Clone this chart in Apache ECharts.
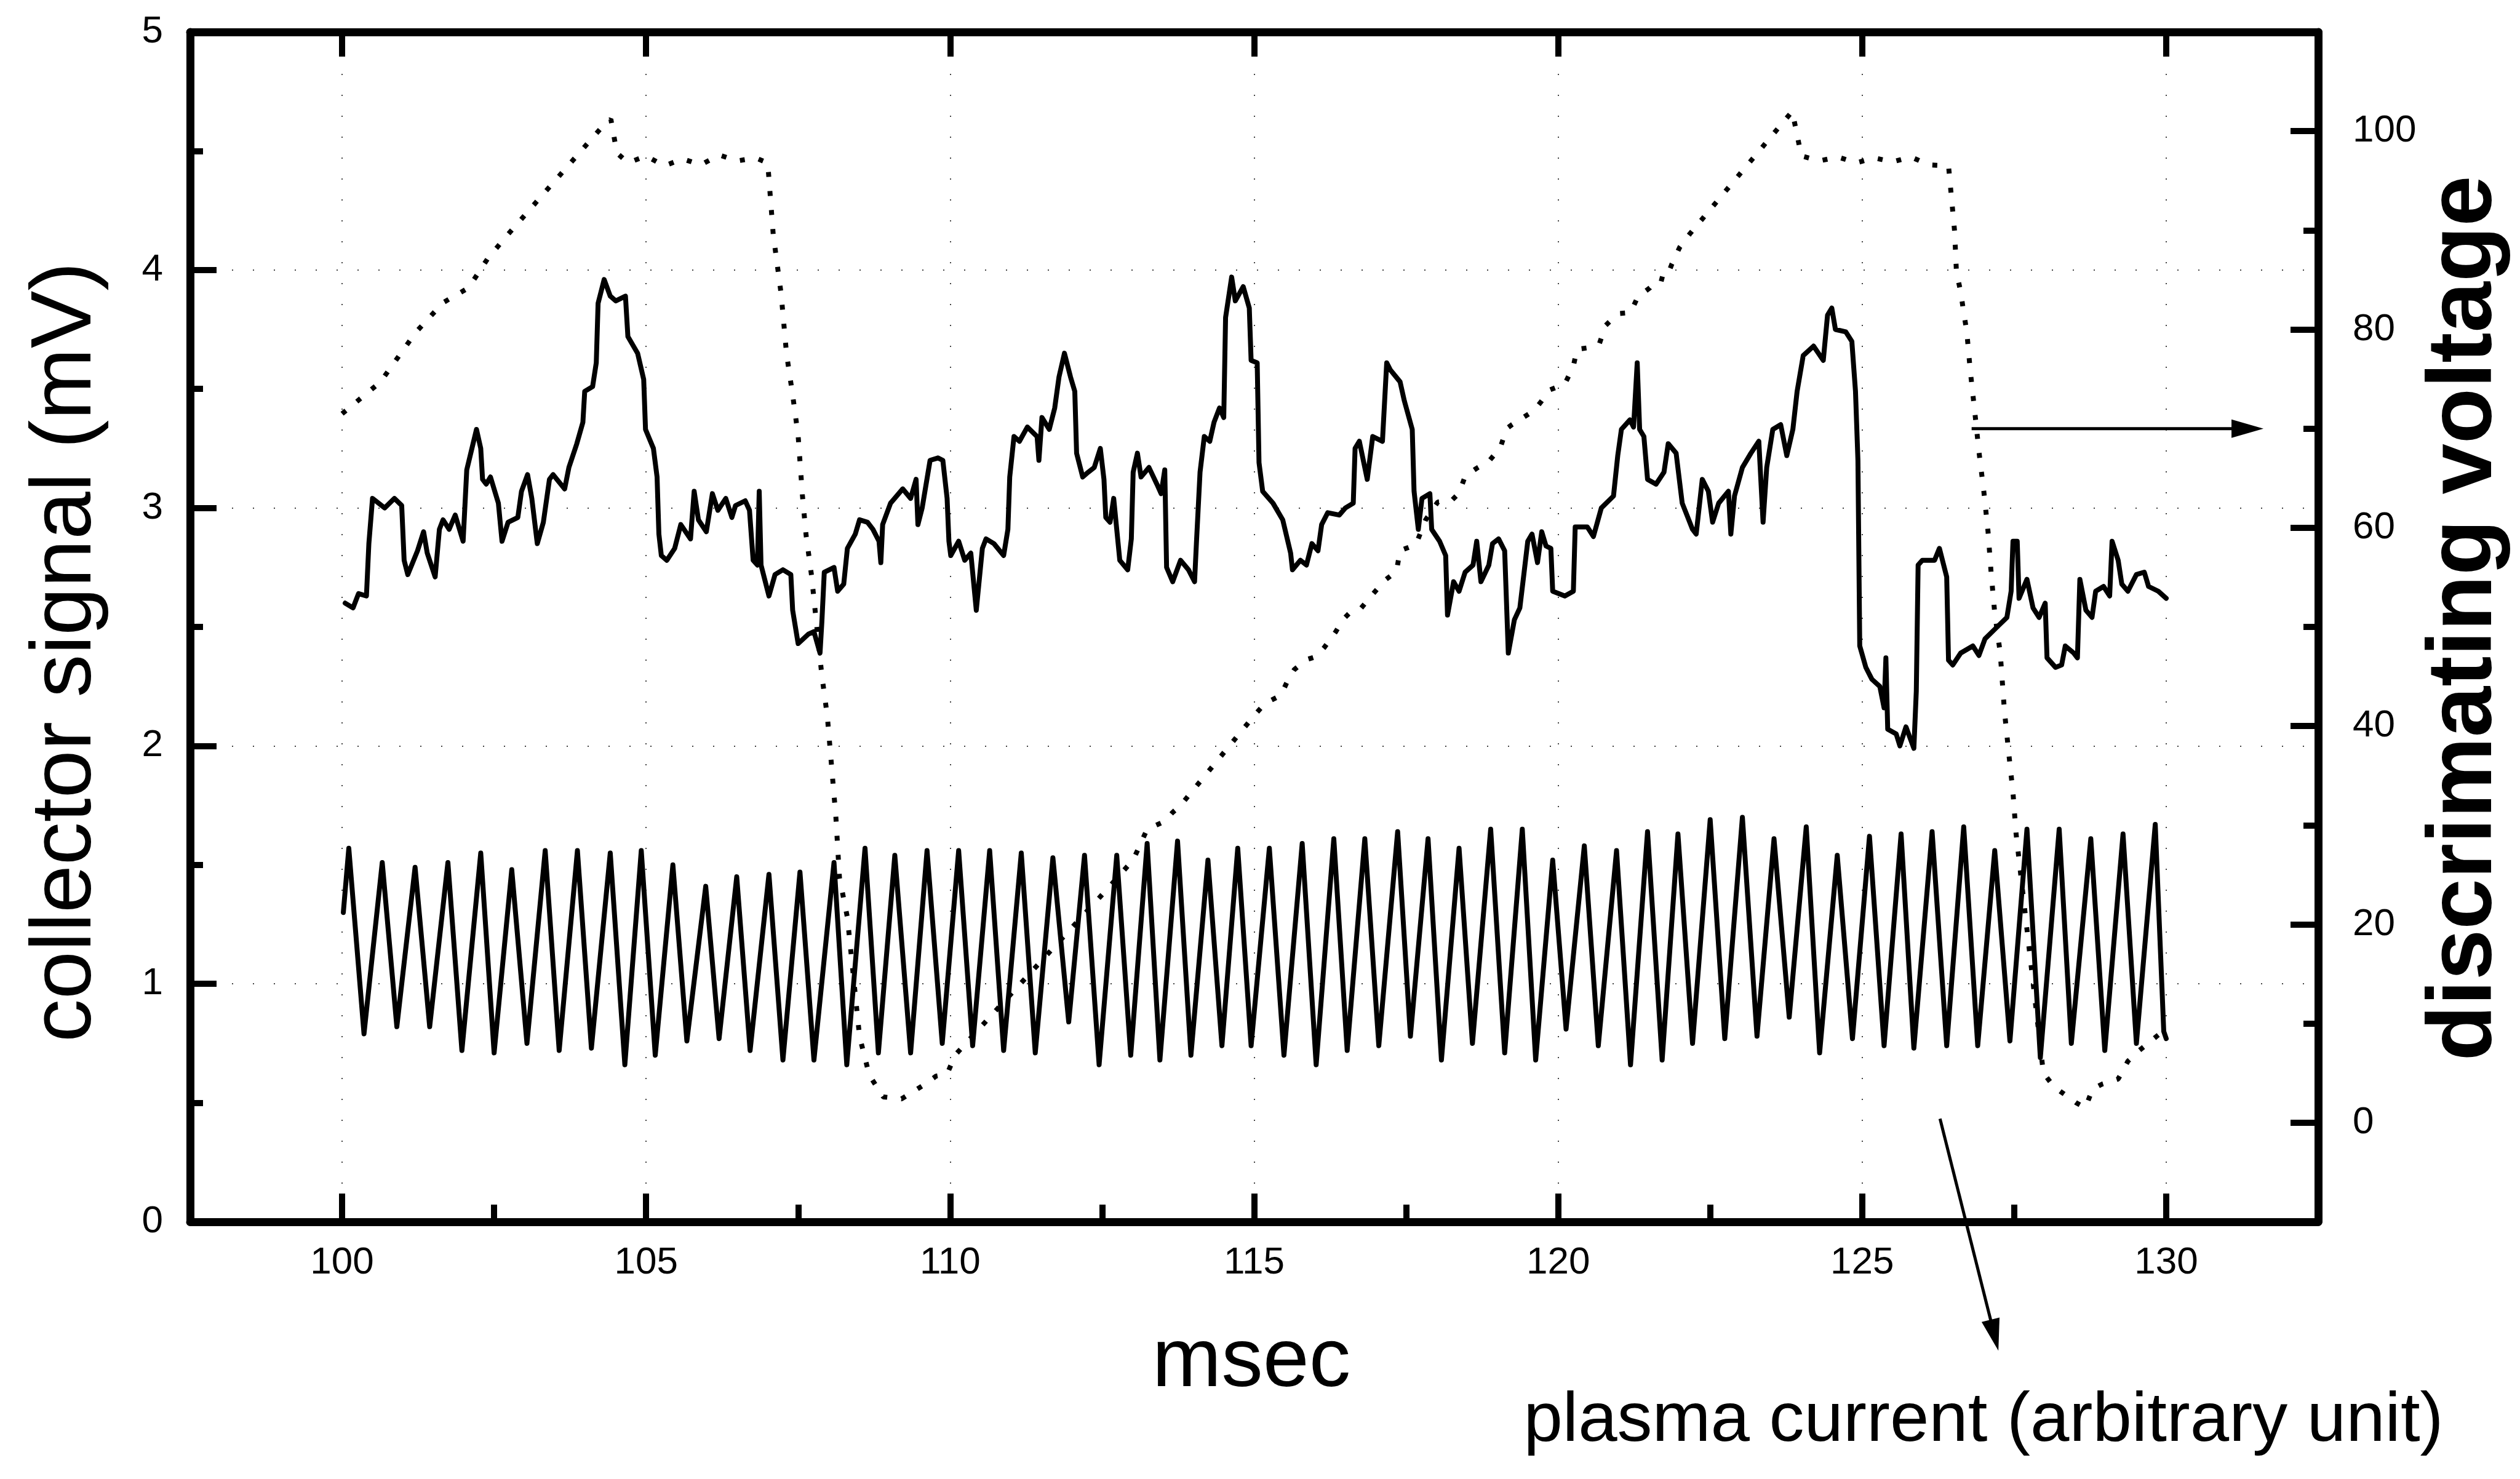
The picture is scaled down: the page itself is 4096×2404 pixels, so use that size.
<!DOCTYPE html>
<html>
<head>
<meta charset="utf-8">
<title>collector signal and discriminating voltage</title>
<script src="https://cdn.jsdelivr.net/npm/echarts@6/dist/echarts.min.js"></script>
<style>
  html, body { margin: 0; padding: 0; background: #ffffff; }
  #chart { width: 4096px; height: 2404px; }
</style>
</head>
<body>
<div id="chart"></div>
<script>
// ---- measured traces -------------------------------------------------------
// collector signal (mV, left axis) against time (msec)
const collectorTime = [
  100.05,100.18,100.27,100.40,100.44,100.50,100.70,100.86,100.98,101.02,101.08,101.24,101.34,101.40,101.53,101.60,101.66,101.76,101.86,101.99,
  102.05,102.21,102.28,102.31,102.37,102.44,102.57,102.63,102.73,102.89,102.95,103.05,103.12,103.21,103.31,103.41,103.47,103.66,103.73,103.86,
  103.96,103.99,104.12,104.18,104.21,104.31,104.41,104.50,104.66,104.70,104.86,104.96,104.99,105.12,105.18,105.21,105.25,105.34,105.47,105.57,
  105.73,105.79,105.86,105.99,106.09,106.18,106.31,106.41,106.47,106.63,106.70,106.76,106.83,106.86,106.89,107.02,107.12,107.25,107.38,107.41,
  107.50,107.67,107.76,107.86,107.89,107.93,108.09,108.15,108.25,108.31,108.44,108.51,108.64,108.73,108.83,108.86,108.89,109.02,109.22,109.35,
  109.44,109.47,109.54,109.67,109.80,109.88,109.95,109.98,110.01,110.14,110.24,110.34,110.43,110.53,110.59,110.72,110.88,110.95,110.98,111.05,
  111.14,111.27,111.43,111.46,111.51,111.63,111.72,111.79,111.88,111.98,112.05,112.08,112.18,112.27,112.37,112.47,112.53,112.56,112.63,112.69,
  112.79,112.92,112.98,113.01,113.08,113.14,113.27,113.40,113.47,113.53,113.56,113.66,113.79,113.92,114.02,114.05,114.11,114.18,114.27,114.34,
  114.43,114.50,114.53,114.63,114.69,114.82,114.92,114.95,115.05,115.08,115.14,115.31,115.47,115.60,115.63,115.76,115.86,115.95,116.05,116.11,
  116.21,116.40,116.50,116.63,116.66,116.73,116.86,116.95,117.11,117.18,117.24,117.40,117.47,117.60,117.63,117.70,117.76,117.89,117.92,118.05,
  118.15,118.18,118.28,118.37,118.47,118.60,118.66,118.73,118.86,118.92,119.02,119.12,119.18,119.28,119.37,119.44,119.50,119.57,119.66,119.73,
  119.80,119.88,119.91,120.11,120.25,120.28,120.48,120.58,120.71,120.91,120.98,121.04,121.18,121.24,121.30,121.34,121.41,121.47,121.61,121.74,
  121.81,121.94,122.04,122.21,122.27,122.37,122.47,122.54,122.64,122.80,122.84,122.90,123.03,123.17,123.30,123.37,123.43,123.53,123.66,123.76,
  123.86,123.93,124.03,124.20,124.36,124.43,124.50,124.56,124.73,124.83,124.89,124.93,124.96,125.06,125.16,125.29,125.36,125.39,125.42,125.56,
  125.62,125.72,125.85,125.89,125.92,125.99,126.19,126.27,126.39,126.42,126.49,126.62,126.82,126.92,127.02,127.22,127.38,127.45,127.48,127.55,
  127.58,127.71,127.81,127.91,128.01,128.04,128.18,128.28,128.34,128.48,128.54,128.58,128.68,128.78,128.84,128.97,129.07,129.11,129.21,129.27,
  129.37,129.51,129.64,129.71,129.87,130.00
];
const collectorSignal = [
  2.60,2.58,2.64,2.63,2.85,3.04,3.00,3.04,3.01,2.78,2.72,2.82,2.90,2.81,2.71,2.91,2.95,2.91,2.97,2.86,
  3.16,3.33,3.25,3.12,3.10,3.13,3.02,2.86,2.94,2.96,3.07,3.14,3.04,2.85,2.94,3.12,3.14,3.08,3.17,3.27,
  3.36,3.49,3.51,3.61,3.86,3.96,3.89,3.87,3.89,3.72,3.65,3.54,3.33,3.25,3.13,2.89,2.80,2.78,2.83,2.93,
  2.87,3.07,2.95,2.90,3.06,2.99,3.04,2.96,3.01,3.03,2.99,2.78,2.76,3.07,2.76,2.63,2.72,2.74,2.72,2.57,
  2.43,2.47,2.48,2.39,2.52,2.73,2.75,2.65,2.68,2.83,2.89,2.95,2.94,2.91,2.86,2.77,2.93,3.02,3.08,3.04,
  3.12,2.93,3.00,3.20,3.21,3.20,3.04,2.86,2.80,2.86,2.78,2.81,2.57,2.83,2.87,2.85,2.80,2.91,3.13,3.30,
  3.28,3.34,3.30,3.20,3.38,3.33,3.42,3.55,3.65,3.55,3.49,3.23,3.13,3.15,3.17,3.25,3.12,2.96,2.94,3.04,
  2.78,2.74,2.87,3.15,3.23,3.13,3.17,3.10,3.06,3.16,2.75,2.69,2.78,2.74,2.69,2.85,3.15,3.30,3.28,3.36,
  3.42,3.38,3.80,3.97,3.87,3.93,3.84,3.62,3.61,3.19,3.07,3.02,2.95,2.81,2.74,2.78,2.76,2.85,2.82,2.93,
  2.98,2.97,3.00,3.02,3.25,3.28,3.12,3.30,3.28,3.61,3.58,3.53,3.45,3.33,3.07,2.91,3.04,3.06,2.91,2.86,
  2.80,2.55,2.69,2.65,2.73,2.76,2.86,2.69,2.76,2.85,2.87,2.82,2.39,2.53,2.58,2.73,2.86,2.89,2.77,2.90,
  2.84,2.83,2.65,2.63,2.65,2.92,2.92,2.88,3.00,3.05,3.22,3.33,3.37,3.34,3.61,3.33,3.30,3.12,3.10,3.15,
  3.27,3.23,3.02,2.91,2.89,3.12,3.07,2.94,3.02,3.07,2.89,3.05,3.17,3.23,3.28,2.94,3.17,3.33,3.35,3.22,
  3.33,3.49,3.64,3.68,3.62,3.81,3.84,3.75,3.74,3.70,3.49,3.20,2.42,2.33,2.28,2.25,2.16,2.37,2.07,2.05,
  2.00,2.08,1.99,2.23,2.76,2.78,2.78,2.83,2.71,2.36,2.34,2.39,2.42,2.38,2.45,2.50,2.54,2.65,2.86,2.86,
  2.62,2.70,2.58,2.54,2.60,2.37,2.33,2.34,2.42,2.39,2.37,2.70,2.57,2.54,2.65,2.67,2.63,2.86,2.78,2.68,
  2.65,2.72,2.73,2.67,2.65,2.62
];

// plasma current (arbitrary unit, plotted on the left axis): turning points of the oscillation
const plasmaTime = [
  100.02,100.11,100.36,100.66,100.90,101.20,101.44,101.74,101.97,102.28,102.50,102.79,103.04,103.34,103.57,103.87,104.10,104.41,104.65,104.92,
  105.15,105.44,105.67,105.98,106.20,106.49,106.71,107.02,107.25,107.53,107.76,108.09,108.30,108.60,108.82,109.09,109.35,109.62,109.87,110.14,
  110.37,110.65,110.88,111.17,111.40,111.69,111.95,112.21,112.45,112.74,112.97,113.24,113.45,113.74,113.96,114.24,114.47,114.73,114.95,115.25,
  115.49,115.79,116.02,116.31,116.53,116.82,117.05,117.36,117.57,117.86,118.08,118.37,118.59,118.89,119.12,119.41,119.63,119.91,120.13,120.43,
  120.66,120.96,121.19,121.47,121.71,121.97,122.21,122.50,122.74,123.03,123.27,123.55,123.80,124.08,124.30,124.59,124.84,125.12,125.36,125.64,
  125.85,126.15,126.39,126.67,126.90,127.18,127.43,127.71,127.93,128.24,128.44,128.76,128.99,129.29,129.51,129.82,129.96,130.00
];
const plasmaCurrent = [
  1.30,1.57,0.79,1.51,0.82,1.49,0.82,1.51,0.72,1.55,0.71,1.48,0.75,1.56,0.72,1.56,0.73,1.55,0.66,1.56,
  0.70,1.50,0.76,1.41,0.77,1.45,0.72,1.46,0.68,1.47,0.68,1.51,0.66,1.57,0.71,1.54,0.71,1.56,0.75,1.56,
  0.74,1.56,0.72,1.55,0.71,1.53,0.84,1.54,0.66,1.54,0.70,1.59,0.68,1.60,0.70,1.52,0.74,1.57,0.74,1.57,
  0.70,1.59,0.66,1.61,0.72,1.61,0.74,1.64,0.78,1.61,0.68,1.57,0.75,1.65,0.71,1.65,0.68,1.52,0.81,1.58,
  0.74,1.56,0.66,1.64,0.68,1.63,0.75,1.69,0.77,1.70,0.78,1.61,0.86,1.66,0.71,1.54,0.77,1.62,0.74,1.63,
  0.73,1.64,0.74,1.66,0.74,1.56,0.76,1.65,0.69,1.65,0.75,1.61,0.72,1.63,0.75,1.67,0.80,0.77
];

// discriminating voltage (right axis) against time (msec)
const voltageTime = [
  100.00,100.63,101.21,101.66,102.08,102.40,102.73,104.30,104.42,104.52,104.70,105.00,105.30,105.60,105.90,106.20,106.50,106.80,107.00,107.09,
  107.22,107.31,107.41,107.50,107.57,107.63,107.72,107.89,107.98,108.12,108.18,108.31,108.51,108.67,108.90,109.20,109.54,109.77,109.95,110.08,
  110.63,112.53,113.01,113.24,113.53,113.66,113.79,115.02,115.18,115.44,115.56,115.66,115.86,116.02,116.15,116.34,116.47,116.60,116.76,116.95,
  117.15,117.34,117.40,117.66,117.82,118.02,118.24,118.37,118.47,118.66,118.86,119.05,119.15,119.24,119.37,119.60,119.73,119.86,120.11,120.25,
  120.31,120.55,120.68,120.78,120.98,121.19,121.31,121.51,121.64,121.77,121.87,122.00,122.16,123.85,124.00,124.30,124.60,124.90,125.20,125.50,
  125.80,126.10,126.42,126.52,126.55,126.62,126.67,126.72,126.78,126.85,126.92,127.00,127.07,127.12,127.18,127.27,127.34,127.41,127.48,127.53,
  127.98,128.16,128.52,128.67,128.79,128.95,129.21,129.37,129.56,130.00
];
const discrVoltage = [
  71.5,74.7,79.7,82.7,84.2,87.2,89.6,100.6,101.2,97.8,96.8,97.5,96.5,97.2,96.6,97.6,97.0,97.3,96.8,89.6,
  83.6,77.5,73.4,69.3,63.3,59.3,55.2,45.1,41.0,30.9,24.7,20.7,8.7,4.8,2.6,2.4,3.7,4.7,4.9,6.8,
  10.5,23.2,26.5,29.6,30.4,31.3,32.0,41.2,42.3,43.1,44.7,45.7,46.7,47.0,47.9,49.5,50.8,51.6,51.9,53.3,
  54.7,55.6,57.7,58.3,60.8,62.6,62.7,63.5,65.2,66.0,66.7,68.1,70.0,70.4,70.9,71.8,72.8,73.9,74.5,76.3,
  78.0,78.2,78.6,80.4,81.6,81.7,83.3,84.2,85.2,85.0,86.6,88.3,89.6,102.0,97.5,97.0,97.4,96.8,97.3,96.9,
  97.4,96.6,96.5,89.9,85.8,83.8,81.7,79.8,75.7,71.8,67.7,63.7,59.6,55.5,51.4,47.4,41.5,37.3,33.3,29.2,
  5.0,3.6,2.0,1.5,3.4,3.9,4.4,6.2,7.3,9.5
];

// axis ticks
const timeTicks = [100, 105, 110, 115, 120, 125, 130];
const timeMinorTicks = [102.5, 107.5, 112.5, 117.5, 122.5, 127.5];
const voltageTicks = [0, 20, 40, 60, 80, 100];
const voltageMinorTicks = [10, 30, 50, 70, 90];

// pointer arrows, [time0, volt0, time1, volt1] on the right-hand scale
const arrowSegments = [
  [126.8, 70.0, 131.6, 70.0],
  [126.28, 0.4, 127.24, -23.0]
];

// ---- drawing ---------------------------------------------------------------
const FONT = '"Liberation Sans", Arial, Helvetica, sans-serif';
const INK = '#000000';
const FRAME_W = 13;
const TICK_W = 10;

const zip = (xs, ys) => xs.map((x, i) => [x, ys[i]]);

const dottedGrid = {
  show: true,
  lineStyle: { color: '#444444', width: 2, type: [2, 32] }
};

const tickLabel = { fontSize: 62, fontFamily: FONT, color: INK };

const chart = echarts.init(document.getElementById('chart'), null, { renderer: 'canvas' });

const option = {
  animation: false,
  backgroundColor: '#ffffff',
  textStyle: { fontFamily: FONT, color: INK },
  grid: { left: 309, right: 328, top: 52, bottom: 418, containLabel: false },
  xAxis: [
    {
      type: 'value', position: 'bottom', min: 97.5, max: 132.5,
      axisLine: { show: true, onZero: false, lineStyle: { color: INK, width: FRAME_W } },
      axisTick: { show: true, inside: true, length: 46, customValues: timeTicks, lineStyle: { color: INK, width: TICK_W } },
      axisLabel: Object.assign({ show: true, customValues: timeTicks, margin: 36 }, tickLabel),
      splitLine: dottedGrid
    },
    {
      type: 'value', position: 'bottom', min: 97.5, max: 132.5,
      axisLine: { show: false },
      axisTick: { show: true, inside: true, length: 28, customValues: timeMinorTicks, lineStyle: { color: INK, width: TICK_W } },
      axisLabel: { show: false },
      splitLine: { show: false }
    },
    {
      type: 'value', position: 'top', min: 97.5, max: 132.5,
      axisLine: { show: true, onZero: false, lineStyle: { color: INK, width: FRAME_W } },
      axisTick: { show: true, inside: true, length: 40, customValues: timeTicks, lineStyle: { color: INK, width: TICK_W } },
      axisLabel: { show: false },
      splitLine: { show: false }
    }
  ],
  yAxis: [
    {
      type: 'value', position: 'left', min: 0, max: 5, interval: 1,
      axisLine: { show: true, onZero: false, lineStyle: { color: INK, width: FRAME_W } },
      axisTick: { show: true, inside: true, length: 43, lineStyle: { color: INK, width: TICK_W } },
      minorTick: { show: true, splitNumber: 2, length: 21, lineStyle: { color: INK, width: TICK_W } },
      axisLabel: Object.assign({ show: true, margin: 44 }, tickLabel),
      splitLine: dottedGrid
    },
    {
      type: 'value', position: 'right', min: -10, max: 110,
      axisLine: { show: true, onZero: false, lineStyle: { color: INK, width: FRAME_W } },
      axisTick: { show: true, inside: true, length: 45, customValues: voltageTicks, lineStyle: { color: INK, width: TICK_W } },
      axisLabel: Object.assign({ show: true, customValues: voltageTicks, margin: 56 }, tickLabel),
      splitLine: { show: false }
    },
    {
      type: 'value', position: 'right', min: -10, max: 110,
      axisLine: { show: false },
      axisTick: { show: true, inside: true, length: 24, customValues: voltageMinorTicks, lineStyle: { color: INK, width: TICK_W } },
      axisLabel: { show: false },
      splitLine: { show: false }
    }
  ],
  series: [
    {
      name: 'collector signal', type: 'line', xAxisIndex: 0, yAxisIndex: 0,
      data: zip(collectorTime, collectorSignal),
      symbol: 'none', showSymbol: false, silent: true, z: 4,
      lineStyle: { color: INK, width: 8, join: 'round', cap: 'round' }
    },
    {
      name: 'plasma current', type: 'line', xAxisIndex: 0, yAxisIndex: 0,
      data: zip(plasmaTime, plasmaCurrent),
      symbol: 'none', showSymbol: false, silent: true, z: 4,
      lineStyle: { color: INK, width: 8, join: 'round', cap: 'round' }
    },
    {
      name: 'discriminating voltage', type: 'line', xAxisIndex: 0, yAxisIndex: 1,
      data: zip(voltageTime, discrVoltage),
      symbol: 'none', showSymbol: false, silent: true, z: 3,
      lineStyle: { color: INK, width: 8, type: [8, 23] }
    },
    {
      name: 'pointers', type: 'custom', xAxisIndex: 0, yAxisIndex: 1,
      data: arrowSegments, encode: { x: [0, 2], y: [1, 3] },
      clip: false, silent: true, z: 5,
      renderItem: function (params, api) {
        const p0 = api.coord([api.value(0), api.value(1)]);
        const p1 = api.coord([api.value(2), api.value(3)]);
        const dx = p1[0] - p0[0], dy = p1[1] - p0[1];
        const len = Math.sqrt(dx * dx + dy * dy);
        const ux = dx / len, uy = dy / len;
        const headLen = 52, headHalf = 15;
        const bx = p1[0] - ux * headLen, by = p1[1] - uy * headLen;
        const nx = -uy, ny = ux;
        return {
          type: 'group',
          children: [
            { type: 'line', shape: { x1: p0[0], y1: p0[1], x2: bx + ux * 4, y2: by + uy * 4 },
              style: { stroke: INK, lineWidth: 5 } },
            { type: 'polygon',
              shape: { points: [[p1[0], p1[1]], [bx + nx * headHalf, by + ny * headHalf], [bx - nx * headHalf, by - ny * headHalf]] },
              style: { fill: INK } }
          ]
        };
      }
    }
  ],
  graphic: [
    { type: 'text', x: 108, y: 1060, rotation: Math.PI / 2, silent: true,
      style: { text: 'collector signal (mV)', fontSize: 140, fontFamily: FONT, fill: INK, textAlign: 'center', textVerticalAlign: 'middle' } },
    { type: 'text', x: 4008, y: 1005, rotation: Math.PI / 2, silent: true,
      style: { text: 'discrimating voltage', fontSize: 148, fontWeight: 'bold', fontFamily: FONT, fill: INK, textAlign: 'center', textVerticalAlign: 'middle' } },
    { type: 'text', x: 2034, y: 2216, silent: true,
      style: { text: 'msec', fontSize: 135, fontFamily: FONT, fill: INK, textAlign: 'center', textVerticalAlign: 'middle' } },
    { type: 'text', x: 3224, y: 2311, silent: true,
      style: { text: 'plasma current (arbitrary unit)', fontSize: 114, fontFamily: FONT, fill: INK, textAlign: 'center', textVerticalAlign: 'middle' } }
  ]
};

chart.setOption(option);
</script>
</body>
</html>
